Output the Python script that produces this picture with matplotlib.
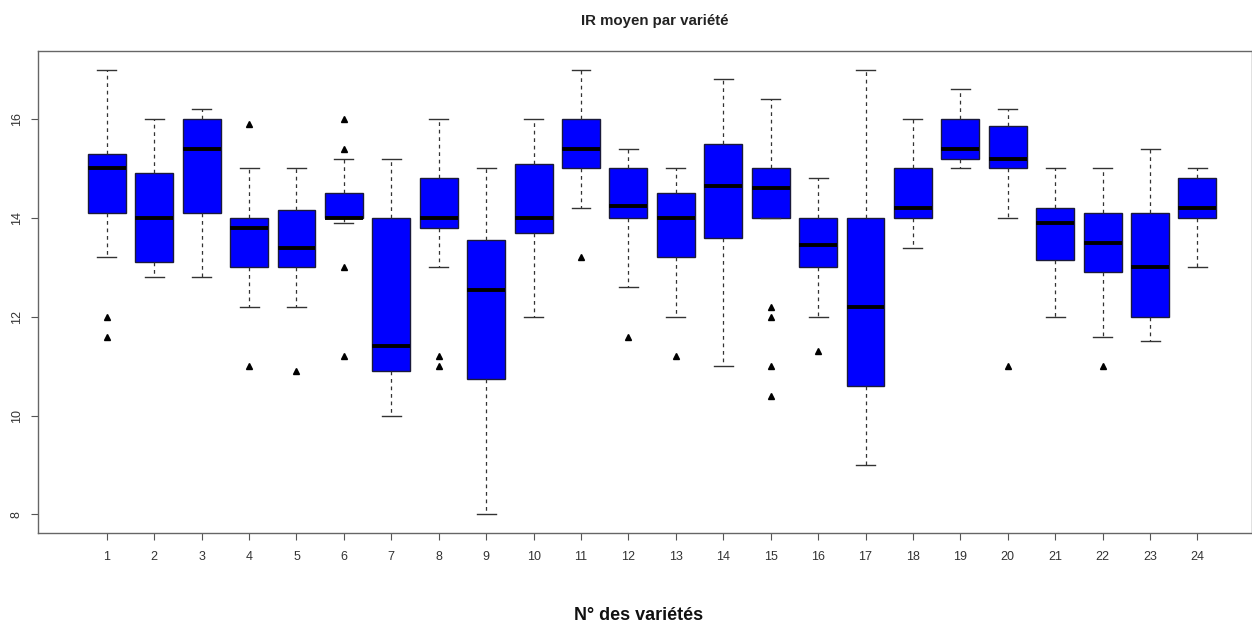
import matplotlib
matplotlib.use("Agg")
import matplotlib.pyplot as plt

plt.rcParams['font.family'] = ['Liberation Sans', 'DejaVu Sans']

# statistiques (par variété 1..24)
varietes = list(range(1, 25))
w_bas = [13.2, 12.8, 12.8, 12.2, 12.2, 13.9, 10.0, 13.0, 8.0, 12.0, 14.2, 12.6,
         12.0, 11.0, 14.0, 12.0, 9.0, 13.4, 15.0, 14.0, 12.0, 11.6, 11.5, 13.0]
q1 = [14.1, 13.1, 14.1, 13.0, 13.0, 14.0, 10.9, 13.8, 10.75, 13.7, 15.0, 14.0,
      13.2, 13.6, 14.0, 13.0, 10.6, 14.0, 15.2, 15.0, 13.15, 12.9, 12.0, 14.0]
mediane = [15.0, 14.0, 15.4, 13.8, 13.4, 14.0, 11.4, 14.0, 12.55, 14.0, 15.4, 14.25,
           14.0, 14.65, 14.6, 13.45, 12.2, 14.2, 15.4, 15.2, 13.9, 13.5, 13.0, 14.2]
q3 = [15.3, 14.9, 16.0, 14.0, 14.15, 14.5, 14.0, 14.8, 13.55, 15.1, 16.0, 15.0,
      14.5, 15.5, 15.0, 14.0, 14.0, 15.0, 16.0, 15.85, 14.2, 14.1, 14.1, 14.8]
w_haut = [17.0, 16.0, 16.2, 15.0, 15.0, 15.2, 15.2, 16.0, 15.0, 16.0, 17.0, 15.4,
          15.0, 16.8, 16.4, 14.8, 17.0, 16.0, 16.6, 16.2, 15.0, 15.0, 15.4, 15.0]
aberrants = [[12.0, 11.6], [], [], [15.9, 11.0], [10.9], [16.0, 15.4, 13.0, 11.2],
             [], [11.2, 11.0], [], [], [13.2], [11.6], [11.2], [],
             [12.2, 12.0, 11.0, 10.4], [11.3], [], [], [], [11.0], [], [11.0], [], []]

stats = []
for i in range(len(varietes)):
    stats.append({'whislo': w_bas[i], 'q1': q1[i], 'med': mediane[i], 'q3': q3[i],
                  'whishi': w_haut[i], 'fliers': aberrants[i], 'label': str(varietes[i])})

fig = plt.figure(figsize=(12.52, 6.25), dpi=100)
ax = fig.add_axes([0.0304, 0.1472, 0.9696, 0.7712])

ax.bxp(stats, positions=varietes, widths=0.8, patch_artist=True,
       boxprops=dict(facecolor='#0000ff', edgecolor='#1a1a3a', linewidth=1.0),
       medianprops=dict(color='black', linewidth=2.8),
       whiskerprops=dict(color='#333333', linestyle=(0, (3, 3)), linewidth=0.9),
       capprops=dict(color='#333333', linewidth=1.0),
       flierprops=dict(marker='^', markerfacecolor='black', markeredgecolor='black',
                       markersize=5, linestyle='none'),
       capwidths=0.4)

ax.set_xlim(-0.45, 25.15)
ax.set_ylim(7.625, 17.376)
ax.set_yticks([8, 10, 12, 14, 16])
ax.set_yticklabels(['8', '10', '12', '14', '16'], rotation=90, va='center')
ax.set_xticks(varietes)
ax.set_xticklabels([str(v) for v in varietes])
ax.tick_params(axis='both', colors='#555555', labelcolor='#333333', labelsize=9,
               length=5, width=0.8)
ax.tick_params(axis='x', pad=8)
ax.tick_params(axis='y', pad=6)
for s in ax.spines.values():
    s.set_color('#666666')
    s.set_linewidth(1.0)

fig.text(0.523, 0.966, 'IR moyen par variété', ha='center', va='center',
         fontsize=10.8, fontweight='bold', color='#222222')
fig.text(0.51, 0.0144, 'N° des variétés', ha='center', va='center',
         fontsize=13, fontweight='bold', color='#111111')

fig.savefig('out.png', dpi=100)
